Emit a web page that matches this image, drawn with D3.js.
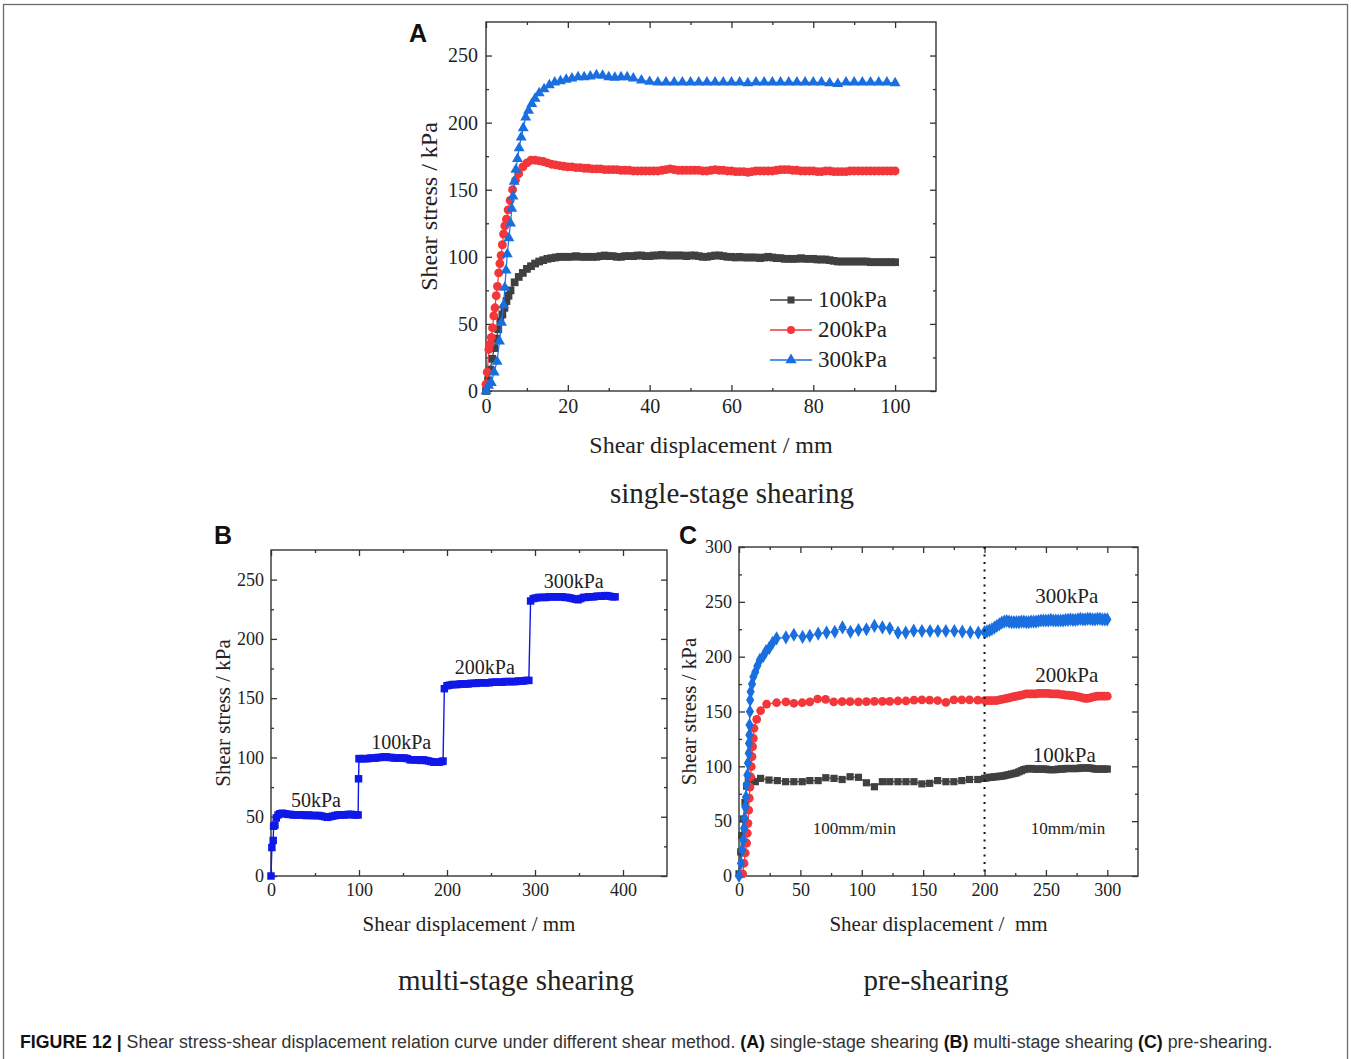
<!DOCTYPE html>
<html>
<head>
<meta charset="utf-8">
<script src="https://cdn.jsdelivr.net/npm/d3@7"></script>
<style>
  body { margin: 0; background: #fff; }
  svg { display: block; }
</style>
</head>
<body>
<script>
// ---- panel A: single-stage shearing ----
const aGrayX = [0,0.5,1,1.5,2,2.5,3,3.5,4,4.5,5,5.5,6,7,8,9,10,11,12,13,14,15,16,17,18,19,
  20,21,22,23,24,25,26,27,28,29,30,31,32,33,34,35,36,37,38,39,40,41,42,43,44,45,46,47,48,49,50,
  51,52,53,54,55,56,57,58,59,60,61,62,63,64,65,66,67,68,69,70,71,72,73,74,75,76,77,78,79,80,
  81,82,83,84,85,86,87,88,89,90,91,92,93,94,95,96,97,98,99,100];
const aGrayY = [0,8,16,24,32,39,46,52,57,62,67,71,75,81,85,88,91,93,95,96.5,97.5,98.5,99,99.5,100,100,
  100,100,100.5,100,100,100,100,100,100.5,101,100.5,100.5,100,100,100.5,100.5,100.5,101,101,100.5,100.5,101,101,101.5,101,101,101,101,101,100.5,101,
  101,100.5,100,100,100.5,101,101,100.5,100,100,99.5,100,99.5,99.5,99.5,99.5,99,99.5,100,99.5,99,99,98.5,98.5,98.5,98.5,99,98.5,98.5,98.5,
  98,98,98,97.5,97,96.5,96.5,96.5,96.5,96.5,96.5,96.5,96.5,96,96,96,96,96,96,96];

const aRedX = [0,0.3,0.7,1,1.3,1.6,1.9,2.2,2.5,2.8,3.1,3.4,3.7,4,4.3,4.6,5,5.4,5.9,6.5,7.2,8,9,10,11,12,13,14,15,16,17,18,19,
  20,21,22,23,24,25,26,27,28,29,30,31,32,33,34,35,36,37,38,39,40,41,42,43,44,45,46,47,48,49,50,
  51,52,53,54,55,56,57,58,59,60,61,62,63,64,65,66,67,68,69,70,71,72,73,74,75,76,77,78,79,80,
  81,82,83,84,85,86,87,88,89,90,91,92,93,94,95,96,97,98,99,100];
const aRedY = [5,14,31,35,40,47,56,62,71,78,88,95,101,109,117,123,128,135,142,150,157,162,167,170,172,172,171.5,171,170,169,168.5,168,167.5,
  167,167,166.5,166.5,166,166,165.5,165.5,165.5,165,165,165,165,164.5,164.5,164.5,164,164,164,164,164,164,164,164.5,165,165.5,165,164.5,164.5,164.5,164.5,
  164.5,164.5,164,164,164.5,165,164.5,164.5,164,164,163.5,163.5,163.5,163,163.5,164,164,164,164,164,164.5,165,165,165,164.5,164.5,164,164,164,164,
  163.5,163.5,164,164,163.5,163.5,163.5,163.5,164,164,164,164,164,164,164,164,164,164,164,164];

const aBlueX = [0,0.6,1.3,2,2.7,3.3,3.8,4.3,4.6,4.9,5.2,5.6,6,6.3,6.6,6.9,7.3,7.7,8.1,8.6,9.1,9.7,10.4,11.2,12,13,14.2,15.5,16.8,18.2,19.6,
  21,22.5,24,25.5,27,28.5,30,31.5,33,34.5,36,38,40,42,44,46,48,50,52,54,56,58,60,62,64,66,68,70,72,74,76,78,80,
  82,84,86,88,90,92,94,96,98,100];
const aBlueY = [0,4,6,14,22,37,51,64,77,90,102,114,125,136,145,156,165,173,181,189,196,204,209,214,218,222,225,228,230,231,232,
  233,234,234,234.5,235.5,235,234,233.5,234,234,233,231.5,230.5,230,230,230,230,230,230,230,230,230,230,230,229.5,230,230,230,230,230,230,230,230,
  230,229.5,229,230,230,230,230,230,230,229.5];

// ---- panel B: multi-stage shearing ----
const bX = [0,1,2.5,3,4.5,6,8,10,13,16,19,22,25,28,31,34,37,40,43,46,49,52,55,58,61,64,67,70,73,76,79,82,85,88,91,94,97,99,
  99.5,
  100,101,104,107,110,113,116,119,122,125,128,131,134,137,140,143,146,149,152,155,158,161,164,167,170,173,176,179,182,185,188,191,194,195.5,
  197,200,203,206,209,212,215,218,221,224,227,230,233,236,239,242,245,248,251,254,257,260,263,266,269,272,275,278,281,284,287,290,293,
  295,298,301,304,307,310,313,316,319,322,325,328,331,334,337,340,343,346,349,352,355,358,361,364,367,370,373,376,379,382,385,388,391];
const bY = [0,24,30,42,43,49,51.5,52.5,53,52.5,52,52,51.5,51.5,51.5,51.5,51.5,51,51.5,51,51,51,51,50.5,50,49.5,50,50.5,51,51.5,51.5,51.5,51.5,52,52,51.5,51.5,51.5,
  82,
  99,99,99,99,99,99.5,99.5,99.5,100,100,100.5,100.5,100,100,99.5,99.5,99.5,99.5,99.5,99,98,98,98,98,97.5,98,97.5,97,96.5,96,96,96,96.5,97,
  158,160.5,161,161.5,161.5,161.5,162,162,162,162,162.5,162.5,162.5,163,163,163,163,163,163.5,163.5,163.5,163.5,163.5,164,164,164,164,164,164.5,164.5,164.5,165,165,
  232,234,234.5,235,235,235,235,235.5,235.5,235.5,235.5,235.5,235.5,235,235,234.5,234,233.5,233,234,235,235,235.5,235.5,235.5,236,236,236,236.5,236.5,236,235.5,235.5];

// ---- panel C: pre-shearing ----
const cSlowX = [200,202,204,206,208,210,212,214,216,218,220,222,224,226,228,230,232,234,236,238,240,242,244,246,248,250,
  252,254,256,258,260,262,264,266,268,270,272,274,276,278,280,282,284,286,288,290,292,294,296,298,300];

const cBlueX = [0,1.6,2.7,3.5,4.1,4.6,5.1,5.7,6.2,6.8,7.3,7.9,8.1,8.4,8.6,8.9,9.1,9.5,10.6,11.7,13.3,14.9,17,19.8,22,24.7,27.4,30.6,
  38.2,44.7,51.8,57.7,64.5,71.3,78,84.3,90.8,97.3,103.8,110.3,116.8,122.8,129.5,135.8,142.3,149,155.6,162,168.5,175.4,181.9,188.4,194.9];
const cBlueY = [0,11.6,23.7,32.8,43.5,52.6,63,72,83,92,103,112,121,128.6,137.7,150,160.5,168,175,181.7,186,191.5,197,200.6,205,208,212.7,216.7,
  217.6,220,218,219,221,222,222.7,226.7,222.7,224.3,225,228,226.7,225.8,221.9,222,223.7,223.4,223.4,223.4,223.4,223.4,222.8,222.2,221.9];
const cBlueSlowY = [222.5,223,224,225,226.5,228,229.5,231,232,232.5,232,231.5,231.5,231.5,231.5,232,232,231.5,231.5,232,232,232,232.5,233,233,233,
  233,233.5,233,233,233,233,233,233.5,233.5,234,233.5,233.5,234,234.5,234,234,234.5,234.5,234,234,234.5,234.5,234,234,234];

const cRedX = [3,4.1,5.1,6.2,6.8,7.3,7.9,8.4,8.9,9.5,10,10.6,11.1,11.7,12.2,14.4,17.6,22.5,30.6,38.2,44.7,51.5,57.7,64,70.5,77.2,
  84,90.5,97.3,103.8,110.3,116.8,122.8,129.5,136,142.5,149,155.3,161.8,168.5,175,181.5,187.8,194.5];
const cRedY = [2,11.6,21,30,39,48,60,71,81,90.5,99.7,108.8,118,125.5,134.7,142.9,150.7,156.8,158,158.7,157.5,158,158.7,161.4,161,158.7,
  159,159,158.7,159,159.3,159.3,159.3,159.6,159.6,160.3,160.6,160.3,160,158.3,160.6,160.6,160.6,160.3];
const cRedSlowY = [160,160,160,160,160,160,160.5,161,161.5,162,162.5,163,163.5,164,164.5,165,165.5,166,166,166,166,166,166.5,166.5,166.5,166.5,
  166.5,166,166,166,166,165.5,165.5,165,165,164.5,164.5,164,163.5,163,162.5,162,162,162.5,163,163.5,164,164,164,164,164];

const cGrayX = [0,1.4,2.2,3.5,4.9,6.2,7.6,10.3,13.3,17.6,24.4,31.2,38,44.7,51.5,57.7,64.5,70.7,77.4,84,90.5,97.3,103.8,110.3,
  116.8,122.8,129.5,136,142.5,149,155.3,161.8,168.5,175,181.5,187.8,194.5];
const cGrayY = [2,22,37,52,67,82,86.5,88,86,89,87.5,87,86,86,86,87,87,89.6,89,88,90.5,90,85,81.4,
  86,86,86,86,86,84,84.5,87,86,86,87,88,88];
const cGraySlowY = [89,89.5,90,90,90.5,90.5,91,91,91.5,92,92.5,93,93.5,94,95,96,97,97.5,98,98,97.5,97.5,97.5,97.5,97.5,97.5,
  97,97,97,97,97.5,97.5,97.5,98,98,98,98,98,98,98.5,98.5,98.5,98.5,98.5,98,97.5,97.5,97.5,97.5,97.5,97.5];

const gray = '#404040', red = '#f2363a', blue = '#1a6fe0', pureBlue = '#0f18e8';
const serif = '"Liberation Serif", "Times New Roman", serif';
const sans = '"Liberation Sans", Arial, sans-serif';

const svg = d3.select('body').append('svg')
  .attr('width', 1351)
  .attr('height', 1059);

svg.append('rect').attr('width', 1351).attr('height', 1059).attr('fill', '#fff');
svg.append('rect')
  .attr('x', 3.5).attr('y', 4.5).attr('width', 1344).attr('height', 1100)
  .attr('fill', 'none').attr('stroke', '#6b6b6b').attr('stroke-width', 1.3);

const zip = (xs, ys) => xs.map((x, i) => [x, ys[i]]);

function panel(p) {
  const x = d3.scaleLinear().domain(p.xDomain).range([p.left, p.right]);
  const y = d3.scaleLinear().domain(p.yDomain).range([p.bottom, p.top]);
  const g = svg.append('g');

  const style = sel => {
    sel.select('.domain').remove();
    sel.selectAll('line').attr('stroke', '#333').attr('stroke-width', 1.3);
    sel.selectAll('text').attr('fill', '#222').style('font-family', serif).style('font-size', p.tickFont + 'px');
  };

  // major + minor ticks on all four sides, pointing in
  g.append('g').attr('transform', `translate(0,${p.bottom})`)
    .call(d3.axisBottom(x).tickValues(p.xTicks).tickSize(-6).tickPadding(p.xPad)).call(style);
  g.append('g').attr('transform', `translate(0,${p.bottom})`)
    .call(d3.axisBottom(x).tickValues(p.xMinor).tickSize(-3).tickFormat('')).call(style);
  g.append('g').attr('transform', `translate(0,${p.top})`)
    .call(d3.axisTop(x).tickValues(p.xTicks).tickSize(-6).tickFormat('')).call(style);
  g.append('g').attr('transform', `translate(0,${p.top})`)
    .call(d3.axisTop(x).tickValues(p.xMinor).tickSize(-3).tickFormat('')).call(style);
  g.append('g').attr('transform', `translate(${p.left},0)`)
    .call(d3.axisLeft(y).tickValues(p.yTicks).tickSize(-6).tickPadding(p.yPad)).call(style);
  g.append('g').attr('transform', `translate(${p.left},0)`)
    .call(d3.axisLeft(y).tickValues(p.yMinor).tickSize(-3).tickFormat('')).call(style);
  g.append('g').attr('transform', `translate(${p.right},0)`)
    .call(d3.axisRight(y).tickValues(p.yTicks).tickSize(-6).tickFormat('')).call(style);
  g.append('g').attr('transform', `translate(${p.right},0)`)
    .call(d3.axisRight(y).tickValues(p.yMinor).tickSize(-3).tickFormat('')).call(style);

  g.append('rect')
    .attr('x', p.left).attr('y', p.top)
    .attr('width', p.right - p.left).attr('height', p.bottom - p.top)
    .attr('fill', 'none').attr('stroke', '#333').attr('stroke-width', 1.4);

  // axis titles
  g.append('text')
    .attr('x', (p.left + p.right) / 2).attr('y', p.xTitleY)
    .attr('text-anchor', 'middle')
    .style('font-family', serif).style('font-size', p.titleFont + 'px').attr('fill', '#222')
    .attr('xml:space', 'preserve')
    .text(p.xTitle);
  g.append('text')
    .attr('transform', `translate(${p.yTitleX},${(p.top + p.bottom) / 2}) rotate(-90)`)
    .attr('text-anchor', 'middle')
    .style('font-family', serif).style('font-size', p.titleFont + 'px').attr('fill', '#222')
    .text(p.yTitle);

  const line = d3.line().x(d => x(d[0])).y(d => y(d[1]));
  p.series.forEach(s => {
    g.append('path')
      .datum(s.points)
      .attr('d', line)
      .attr('fill', 'none').attr('stroke', s.color).attr('stroke-width', s.lineWidth || 1.2);
    g.append('g').selectAll('path')
      .data(s.points)
      .join('path')
      .attr('transform', d => `translate(${x(d[0])},${y(d[1])})`)
      .attr('d', d3.symbol().type(s.symbol).size(s.size))
      .attr('fill', s.color);
  });

  (p.notes || []).forEach(n => {
    g.append('text')
      .attr('x', x(n.at[0])).attr('y', y(n.at[1]))
      .attr('text-anchor', 'middle')
      .style('font-family', serif).style('font-size', n.size + 'px').attr('fill', '#222')
      .text(n.text);
  });

  // panel letter
  svg.append('text')
    .attr('x', p.letterX).attr('y', p.letterY)
    .style('font-family', sans).style('font-weight', 'bold').style('font-size', '25px').attr('fill', '#111')
    .text(p.letter);

  // subtitle under the panel
  svg.append('text')
    .attr('x', p.subX).attr('y', p.subY)
    .attr('text-anchor', 'middle')
    .style('font-family', serif).style('font-size', '29px').attr('fill', '#222')
    .text(p.sub);

  return { g, x, y };
}

// Panel A
const A = panel({
  left: 486, right: 936, top: 22, bottom: 391,
  xDomain: [0, 110], yDomain: [0, 275],
  xTicks: [0, 20, 40, 60, 80, 100], xMinor: [10, 30, 50, 70, 90],
  yTicks: [0, 50, 100, 150, 200, 250], yMinor: [25, 75, 125, 175, 225],
  tickFont: 20, xPad: 8, yPad: 8, titleFont: 24,
  xTitle: 'Shear displacement / mm', xTitleY: 453,
  yTitle: 'Shear stress / kPa', yTitleX: 437,
  letter: 'A', letterX: 409, letterY: 42,
  sub: 'single-stage shearing', subX: 732, subY: 503,
  series: [
    { points: zip(aGrayX, aGrayY), color: gray, symbol: d3.symbolSquare, size: 60 },
    { points: zip(aRedX, aRedY), color: red, symbol: d3.symbolCircle, size: 62 },
    { points: zip(aBlueX, aBlueY), color: blue, symbol: d3.symbolTriangle, size: 52 }
  ]
});

// legend for A
const legendNames = ['100kPa', '200kPa', '300kPa'];
const legendColors = [gray, red, blue];
const legendSymbols = [d3.symbolSquare, d3.symbolCircle, d3.symbolTriangle];
const legend = A.g.append('g').attr('transform', 'translate(770,300)');
legendNames.forEach((name, i) => {
  const row = legend.append('g').attr('transform', `translate(0,${i * 30})`);
  row.append('line').attr('x1', 0).attr('x2', 42).attr('stroke', legendColors[i]).attr('stroke-width', 1.6);
  row.append('path').attr('transform', 'translate(21,0)')
    .attr('d', d3.symbol().type(legendSymbols[i]).size(i === 2 ? 55 : 50)).attr('fill', legendColors[i]);
  row.append('text').attr('x', 48).attr('y', 7)
    .style('font-family', serif).style('font-size', '23px').attr('fill', '#222')
    .text(name);
});

// Panel B
panel({
  left: 271, right: 667, top: 550, bottom: 876,
  xDomain: [0, 450], yDomain: [0, 275],
  xTicks: [0, 100, 200, 300, 400], xMinor: [50, 150, 250, 350],
  yTicks: [0, 50, 100, 150, 200, 250], yMinor: [25, 75, 125, 175, 225],
  tickFont: 18, xPad: 7, yPad: 7, titleFont: 21,
  xTitle: 'Shear displacement / mm', xTitleY: 931,
  yTitle: 'Shear stress / kPa', yTitleX: 230,
  letter: 'B', letterX: 214, letterY: 544,
  sub: 'multi-stage shearing', subX: 516, subY: 990,
  series: [
    { points: zip(bX, bY), color: pureBlue, symbol: d3.symbolSquare, size: 56, lineWidth: 1.4 }
  ],
  notes: [
    { text: '50kPa', at: [51, 58], size: 20 },
    { text: '100kPa', at: [148, 107], size: 20 },
    { text: '200kPa', at: [243, 170], size: 20 },
    { text: '300kPa', at: [344, 243], size: 20 }
  ]
});

// Panel C
const C = panel({
  left: 739, right: 1138, top: 547, bottom: 876,
  xDomain: [0, 325], yDomain: [0, 300],
  xTicks: [0, 50, 100, 150, 200, 250, 300], xMinor: [25, 75, 125, 175, 225, 275],
  yTicks: [0, 50, 100, 150, 200, 250, 300], yMinor: [25, 75, 125, 175, 225, 275],
  tickFont: 18, xPad: 7, yPad: 7, titleFont: 21,
  xTitle: 'Shear displacement /  mm', xTitleY: 931,
  yTitle: 'Shear stress / kPa', yTitleX: 696,
  letter: 'C', letterX: 679, letterY: 544,
  sub: 'pre-shearing', subX: 936, subY: 990,
  series: [
    { points: zip(cGrayX, cGrayY).concat(zip(cSlowX, cGraySlowY)), color: gray, symbol: d3.symbolSquare, size: 52 },
    { points: zip(cRedX, cRedY).concat(zip(cSlowX, cRedSlowY)), color: red, symbol: d3.symbolCircle, size: 60 },
    { points: zip(cBlueX, cBlueY).concat(zip(cSlowX, cBlueSlowY)), color: blue, symbol: d3.symbolDiamond, size: 58 }
  ],
  notes: [
    { text: '300kPa', at: [267, 249], size: 21 },
    { text: '200kPa', at: [267, 177], size: 21 },
    { text: '100kPa', at: [265, 104], size: 21 },
    { text: '100mm/min', at: [94, 38], size: 17 },
    { text: '10mm/min', at: [268, 38], size: 17 }
  ]
});

// dotted divider at the rate change
C.g.append('line')
  .attr('x1', C.x(200)).attr('x2', C.x(200))
  .attr('y1', C.y(300)).attr('y2', C.y(0))
  .attr('stroke', '#111').attr('stroke-width', 2)
  .attr('stroke-dasharray', '2,5.5');

// caption: laid out naturally, then squeezed horizontally to the printed width
const capG = svg.append('g');
const cap = capG.append('text')
  .style('font-family', sans).style('font-size', '18px').attr('fill', '#333');
cap.append('tspan').style('font-weight', 'bold').attr('fill', '#111').text('FIGURE 12 | ');
cap.append('tspan').text('Shear stress-shear displacement relation curve under different shear method. ');
cap.append('tspan').style('font-weight', 'bold').attr('fill', '#111').text('(A)');
cap.append('tspan').text(' single-stage shearing ');
cap.append('tspan').style('font-weight', 'bold').attr('fill', '#111').text('(B)');
cap.append('tspan').text(' multi-stage shearing ');
cap.append('tspan').style('font-weight', 'bold').attr('fill', '#111').text('(C)');
cap.append('tspan').text(' pre-shearing.');
const capWidth = cap.node().getComputedTextLength();
capG.attr('transform', `translate(20,1048) scale(${1253 / capWidth},1)`);
</script>
</body>
</html>
